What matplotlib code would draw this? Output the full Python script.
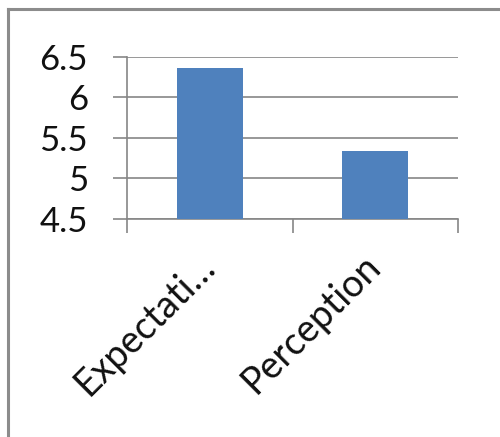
import matplotlib.pyplot as plt
from matplotlib.lines import Line2D

categories = ['Expectati\u2026', 'Perception']
values = [6.36, 5.34]
yticks = [4.5, 5, 5.5, 6, 6.5]

plt.rcParams['font.family'] = ['Lato', 'DejaVu Sans']

fig = plt.figure(figsize=(5, 4.37), dpi=100)
ax = fig.add_axes([0.254, 0.499, 0.662, 0.371])

x = list(range(len(categories)))
ax.bar(x, [v - 4.5 for v in values], bottom=4.5, width=0.4, color='#4f81bd', zorder=3)

ax.set_xlim(-0.5, len(categories) - 0.5)
ax.set_ylim(4.5, 6.5)
ax.set_yticks(yticks)
ax.set_yticklabels(['4.5', '5', '5.5', '6', '6.5'], fontsize=25, color='#111111')
ax.yaxis.grid(True, color='#868686', linewidth=1.2, zorder=0)

# major ticks mark category boundaries, minor ticks carry the labels
ax.set_xticks([i - 0.5 for i in range(len(categories) + 1)])
ax.set_xticklabels([])
ax.set_xticks(x, minor=True)
ax.set_xticklabels(categories, minor=True, rotation=45, ha='right',
                   va='center', rotation_mode='anchor', fontsize=27,
                   color='#111111')
ax.tick_params(axis='x', which='minor', length=0, pad=30)
ax.tick_params(axis='both', which='major', length=10, width=1.2,
               color='#868686', direction='out')
ax.tick_params(axis='y', pad=18)

for side in ['top', 'right']:
    ax.spines[side].set_visible(False)
for side in ['left', 'bottom']:
    ax.spines[side].set_color('#868686')
    ax.spines[side].set_linewidth(1.2)

# frame around the chart area
fig.add_artist(Line2D([0.015, 1.0], [0.979, 0.979], color='#8c8c8c', linewidth=2.2))
fig.add_artist(Line2D([0.015, 0.015], [0.0, 0.979], color='#8c8c8c', linewidth=2.2))

fig.savefig('out.png', dpi=100, facecolor='white')
